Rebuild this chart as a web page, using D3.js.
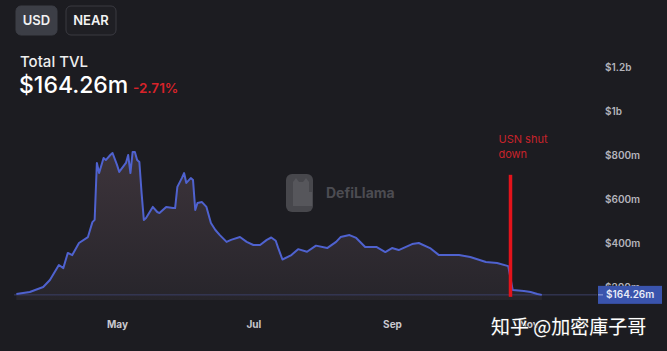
<!DOCTYPE html>
<html><head><meta charset="utf-8">
<script src="https://cdn.jsdelivr.net/npm/d3@7"></script>
<style>
body{margin:0;background:#1c1c21;overflow:hidden}
svg{display:block;font-family:Inter,"Noto Sans",sans-serif}
</style>
</head><body>
<svg id="c" width="667" height="351"></svg>
<script>
// ---- data ----
const dates = ["2022-03-17","2022-03-23","2022-03-29","2022-04-01","2022-04-05","2022-04-07","2022-04-09","2022-04-11","2022-04-14","2022-04-18","2022-04-20","2022-04-21","2022-04-22","2022-04-23","2022-04-25","2022-04-26","2022-04-28","2022-04-29","2022-05-01","2022-05-02","2022-05-05","2022-05-06","2022-05-07","2022-05-08","2022-05-09","2022-05-10","2022-05-11","2022-05-12","2022-05-13","2022-05-14","2022-05-17","2022-05-19","2022-05-20","2022-05-23","2022-05-26","2022-05-27","2022-05-28","2022-05-30","2022-05-31","2022-06-01","2022-06-03","2022-06-04","2022-06-05","2022-06-06","2022-06-08","2022-06-10","2022-06-12","2022-06-14","2022-06-16","2022-06-19","2022-06-21","2022-06-25","2022-06-28","2022-07-01","2022-07-04","2022-07-07","2022-07-09","2022-07-11","2022-07-12","2022-07-14","2022-07-18","2022-07-21","2022-07-25","2022-07-29","2022-08-03","2022-08-07","2022-08-09","2022-08-13","2022-08-16","2022-08-20","2022-08-25","2022-08-29","2022-09-01","2022-09-04","2022-09-10","2022-09-13","2022-09-18","2022-09-22","2022-10-01","2022-10-06","2022-10-13","2022-10-18","2022-10-23","2022-10-25","2022-10-30","2022-11-02","2022-11-05","2022-11-07"];
const tvl = [168,177,200,232,300,286,355,345,400,427,495,505,764,718,786,777,800,809,755,723,764,800,718,814,814,777,768,627,505,514,564,541,536,564,559,559,655,695,718,673,695,686,550,582,586,564,491,459,436,405,414,427,405,391,391,414,425,410,380,325,345,372,360,388,377,405,427,436,423,382,382,359,377,368,395,400,377,345,345,336,314,309,295,186,182,177,168,164.26];
const yTickValues = [200,400,600,800,1000,1200];
const yTickLabels = ["$200m","$400m","$600m","$800m","$1b","$1.2b"];
const xTickDates = ["2022-05-01","2022-07-01","2022-09-01","2022-11-01"];
const xTickLabels = ["May","Jul","Sep","Nov"];
const currencies = ["USD","NEAR"];
const title = "Total TVL";
const currentValue = 164.26;
const currentLabel = "$164.26m";
const changeLabel = "-2.71%";
const eventDate = "2022-10-24";
const eventTop = 710;
const eventLabel = ["USN shut","down"];
const watermark = "知乎 @加密庫子哥";

// ---- setup ----
const parse = d3.utcParse("%Y-%m-%d");
const data = dates.map((d,i)=>({date:parse(d), v:tvl[i]}));
const svg = d3.select("#c");
const W = 667, H = 351;
svg.append("rect").attr("width",W).attr("height",H).attr("fill","#1c1c21");

const pane = {left:14, right:597, top:40, bottom:300};
const x = d3.scaleUtc().domain([parse("2022-05-01"), parse("2022-09-01")]).range([117, 392]);
const y = d3.scaleLinear().domain([200,1200]).range([287,67]);

// header buttons
const btn = svg.append("g");
const bx = [[16,41,"#3c3e46","#3c3e46"],[66,50,"#1f1f24","#3a3a41"]];
currencies.forEach((c,i)=>{
  btn.append("rect").attr("x",bx[i][0]).attr("y",6).attr("width",bx[i][1]).attr("height",29).attr("rx",5)
    .attr("fill",bx[i][2]).attr("stroke",bx[i][3]).attr("stroke-width",1);
  btn.append("text").attr("x",bx[i][0]+bx[i][1]/2).attr("y",25).attr("text-anchor","middle")
    .attr("fill","#f2f2f2").attr("font-size",13).attr("font-weight",600).text(c);
});
svg.append("text").attr("x",20).attr("y",67).attr("fill","#eeeeee").attr("font-size",15).attr("font-weight",500).text(title);
svg.append("text").attr("x",19).attr("y",93).attr("fill","#ffffff").attr("font-size",23).attr("font-weight",500).text(currentLabel);
svg.append("text").attr("x",133).attr("y",93).attr("fill","#d8232a").attr("font-size",13.5).attr("font-weight",600).text(changeLabel);

// watermark logo
const wm = svg.append("g").attr("opacity",1);
wm.append("rect").attr("x",286).attr("y",174).attr("width",27).attr("height",38).attr("rx",6).attr("fill","#47474c");
wm.append("path").attr("d","M293,182 l3,-4 l3,4 h4 l3,-4 l3,4 v10 h3 v14 h-19 z").attr("fill","#56565b");
wm.append("text").attr("x",326).attr("y",198).attr("fill","#4c4c52").attr("font-size",14).attr("font-weight",700).text("DefiLlama");

// area
const defs = svg.append("defs");
const grad = defs.append("linearGradient").attr("id","ag").attr("gradientUnits","userSpaceOnUse")
  .attr("x1",0).attr("x2",0).attr("y1",150).attr("y2",300);
grad.append("stop").attr("offset",0).attr("stop-color","#3d343b");
grad.append("stop").attr("offset",1).attr("stop-color","#27252b");
defs.append("clipPath").attr("id","cp").append("rect")
  .attr("x",pane.left).attr("y",pane.top).attr("width",pane.right-pane.left).attr("height",pane.bottom-pane.top);

const g = svg.append("g").attr("clip-path","url(#cp)");
g.append("path").datum(data)
  .attr("d", d3.area().x(d=>x(d.date)).y0(pane.bottom).y1(d=>y(d.v)).curve(d3.curveLinear))
  .attr("fill","url(#ag)");
// price line
g.append("line").attr("x1",pane.left).attr("x2",pane.right).attr("y1",y(currentValue)).attr("y2",y(currentValue))
  .attr("stroke","#3b3f66").attr("stroke-width",1);
g.append("path").datum(data)
  .attr("d", d3.line().x(d=>x(d.date)).y(d=>y(d.v)))
  .attr("fill","none").attr("stroke","#4f62cf").attr("stroke-width",2).attr("stroke-linejoin","round");

// event
const ex = x(parse(eventDate));
svg.append("line").attr("x1",ex).attr("x2",ex).attr("y1",y(eventTop)).attr("y2",y(currentValue)+2)
  .attr("stroke","#e3131b").attr("stroke-width",3.5);
eventLabel.forEach((t,i)=>{
  svg.append("text").attr("x",ex-12).attr("y",143+i*15).attr("fill","#c8232b").attr("font-size",11).text(t);
});

// y axis
const ya = svg.append("g").attr("transform","translate(603,0)")
  .call(d3.axisRight(y).tickValues(yTickValues).tickSize(0).tickPadding(2).tickFormat((d,i)=>yTickLabels[i]));
ya.select(".domain").remove();
ya.selectAll("text").attr("fill","#b4b4bc").attr("font-size",10).attr("font-weight",600).attr("font-family","Inter,sans-serif");

// current badge
const by = y(currentValue);
svg.append("rect").attr("x",598).attr("y",by-9).attr("width",64).attr("height",18).attr("fill","#3a54ad");
svg.append("line").attr("x1",598).attr("x2",603).attr("y1",by).attr("y2",by).attr("stroke","#9aa6dd").attr("stroke-width",1);
svg.append("text").attr("x",606).attr("y",by+3.5).attr("fill","#e8ebf7").attr("font-size",10).attr("font-weight",600).text(currentLabel);

// x axis
const xa = svg.append("g").attr("transform","translate(0,321)")
  .call(d3.axisBottom(x).tickValues(xTickDates.map(parse)).tickSize(0).tickPadding(0).tickFormat((d,i)=>xTickLabels[i]));
xa.select(".domain").remove();
xa.selectAll("text").attr("fill","#c9c9cf").attr("font-size",10).attr("font-weight",700).attr("font-family","Inter,sans-serif");

// zhihu watermark
svg.append("text").attr("x",491).attr("y",334).attr("font-size",19).attr("font-family","'Noto Sans CJK SC',sans-serif")
  .attr("fill","#ffffff").attr("stroke","#333333").attr("stroke-width",1.2).attr("paint-order","stroke").text(watermark);
</script>
</body></html>
